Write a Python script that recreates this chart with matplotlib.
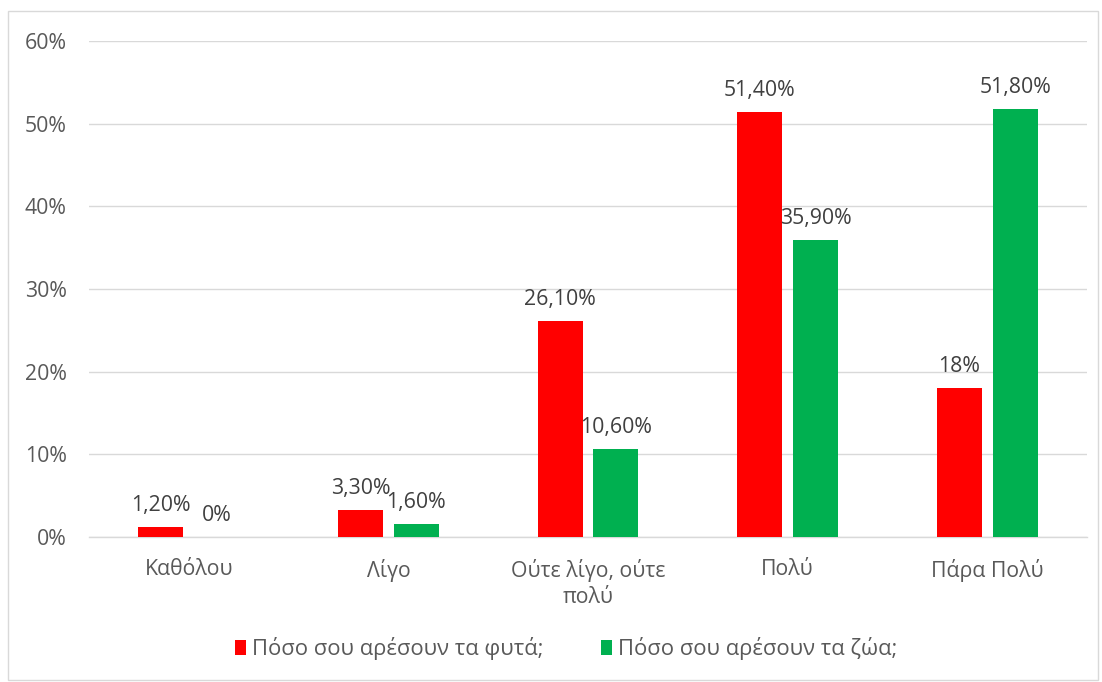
import matplotlib
matplotlib.use("Agg")
import matplotlib.pyplot as plt
from matplotlib.patches import Rectangle, Patch
import numpy as np

plt.rcParams['font.family'] = ['Open Sans', 'DejaVu Sans']

categories = ["Καθόλου", "Λίγο", "Ούτε λίγο, ούτε\nπολύ", "Πολύ", "Πάρα Πολύ"]
plants = [1.2, 3.3, 26.1, 51.4, 18.0]
animals = [0.0, 1.6, 10.6, 35.9, 51.8]
plant_labels = ["1,20%", "3,30%", "26,10%", "51,40%", "18%"]
animal_labels = ["0%", "1,60%", "10,60%", "35,90%", "51,80%"]
series_names = ["Πόσο σου αρέσουν τα φυτά;", "Πόσο σου αρέσουν τα ζώα;"]
yticks = [0, 10, 20, 30, 40, 50, 60]

red = "#FF0000"
green = "#00B050"
text_color = "#595959"
fs = 15.3

W, H = 1102, 682
fig = plt.figure(figsize=(W / 100, H / 100), dpi=100)
fig.patch.set_facecolor("white")

# outer chart frame
fig.add_artist(Rectangle((8 / W, 2 / H), 1090 / W, (H - 13) / H, transform=fig.transFigure,
                         fill=False, edgecolor="#D9D9D9", linewidth=1.0))

ax = fig.add_axes([89 / W, (H - 537) / H, (1087 - 89) / W, (537 - 41) / H])
x = np.arange(len(categories))
w = 0.225
off = 0.14
b1 = ax.bar(x - off, plants, width=w, color=red, zorder=3)
b2 = ax.bar(x + off, animals, width=w, color=green, zorder=3)

for bars, labels in ((b1, plant_labels), (b2, animal_labels)):
    for rect, lab in zip(bars, labels):
        ax.annotate(lab, (rect.get_x() + rect.get_width() / 2, rect.get_height()),
                    xytext=(0, 8), textcoords="offset points", ha="center", va="bottom",
                    fontsize=fs, color="#404040")

ax.set_xlim(-0.5, len(categories) - 0.5)
ax.set_ylim(0, 60)
ax.set_yticks(yticks)
ax.set_yticklabels([f"{v}%" for v in yticks])
ax.set_xticks(x)
ax.set_xticklabels(categories, linespacing=1.3)
ax.tick_params(axis="both", length=0, labelsize=fs, labelcolor=text_color)
ax.tick_params(axis="y", pad=16)
ax.tick_params(axis="x", pad=16)
ax.yaxis.grid(True, color="#D9D9D9", linewidth=1.0, zorder=0)
for s in ["top", "right", "left"]:
    ax.spines[s].set_visible(False)
ax.spines["bottom"].set_color("#D9D9D9")
ax.spines["bottom"].set_linewidth(1.0)

handles = [Patch(facecolor=red), Patch(facecolor=green)]
fig.legend(handles, series_names, loc="center", bbox_to_anchor=(566 / W, (H - 649) / H),
           ncol=2, frameon=False, fontsize=fs + 0.5, labelcolor=text_color,
           handlelength=0.5, handleheight=0.65, handletextpad=0.3, columnspacing=2.6)

fig.savefig("out.png", dpi=100, facecolor="white")
